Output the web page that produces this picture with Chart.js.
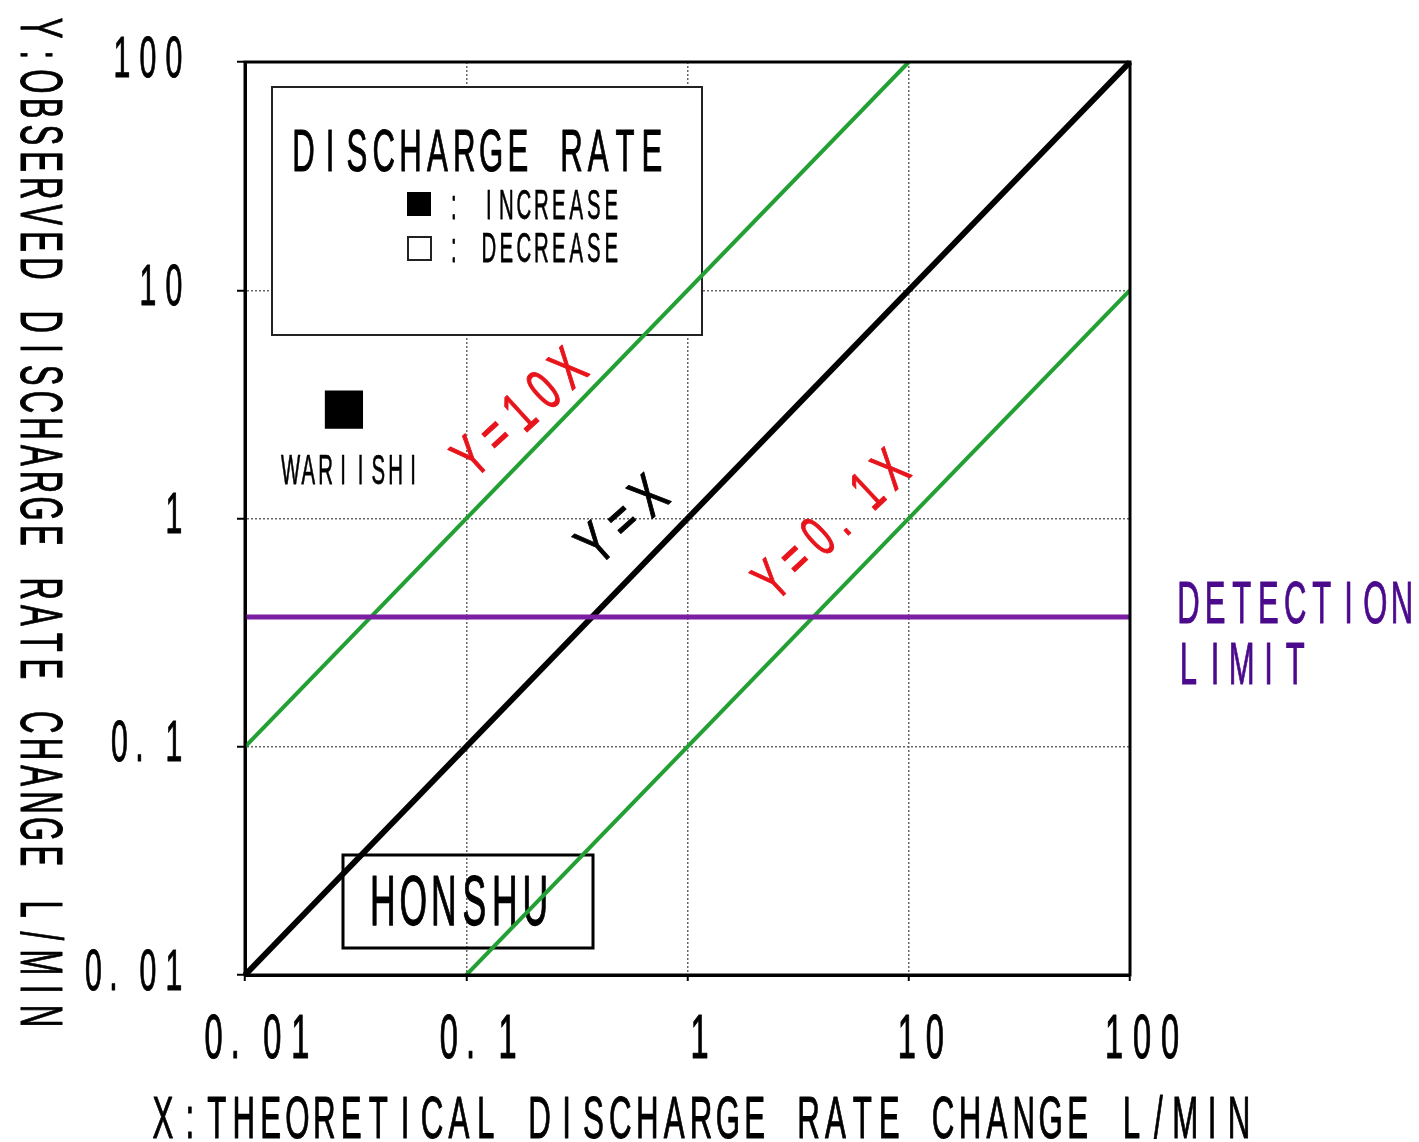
<!DOCTYPE html>
<html>
<head>
<meta charset="utf-8">
<script src="https://cdn.jsdelivr.net/npm/chart.js@4/dist/chart.umd.min.js"></script>
<style>
  body { margin: 0; background: #fff; }
  canvas { display: block; }
</style>
</head>
<body>
<canvas id="chart" width="1419" height="1142"></canvas>
<script>
// axis ticks
var xTicks = [0.01, 0.1, 1, 10, 100];
var xTickLabels = ['0. 01', '0. 1', '1', '10', '100'];
var yTicks = [0.01, 0.1, 1, 10, 100];
var yTickLabels = ['0. 01', '0. 1', '1', '10', '100'];

// reference lines Y = kX
var line10X = [0.01, 10];
var line10Y = [0.1, 100];
var line1X = [0.01, 100];
var line1Y = [0.01, 100];
var line01X = [0.095, 100];
var line01Y = [0.0095, 10];

// detection limit (L/min)
var detectionX = [0.01, 100];
var detectionY = [0.37, 0.37];

// observed sites
var sites = ['WARIISHI'];
var siteX = [0.028];
var siteY = [3.0];

var FONT = '"Liberation Sans", "DejaVu Sans", sans-serif';
var GREEN = '#23a033';
var RED = '#e8141c';

function pairs(xs, ys) {
    var out = [];
    for (var i in xs) {
        out.push({x: xs[i], y: ys[i]});
    }
    return out;
}

// cell width of each char: '.' and the space after it are narrow
function cells(text, cell) {
    var w = [];
    for (var i = 0; i < text.length; i++) {
        var ch = text[i];
        if (ch === '.' || (ch === ' ' && text[i - 1] === '.')) w.push(cell * 0.55);
        else w.push(cell);
    }
    return w;
}

// draws text in fixed cells, like the half-width gothic font of the original
function mono(ctx, text, x, y, cap, cell, color, align) {
    var size = cap / 0.716;
    ctx.save();
    ctx.font = size + 'px ' + FONT;
    ctx.fillStyle = color;
    ctx.strokeStyle = color;
    ctx.lineJoin = 'round';
    ctx.textAlign = 'center';
    ctx.textBaseline = 'alphabetic';
    var w = cells(text, cell);
    var total = w.reduce(function(s, v) { return s + v; }, 0);
    var x0 = x;
    if (align === 'center') x0 = x - total / 2;
    if (align === 'right') x0 = x - total;
    var sx = Math.min(1, cell * 0.84 / ctx.measureText('H').width);
    ctx.lineWidth = Math.max(0.6, cap / 40);
    var pos = x0;
    for (var i = 0; i < text.length; i++) {
        var ch = text[i];
        if (ch !== ' ') {
            ctx.save();
            ctx.translate(pos + w[i] / 2, y + cap / 2);
            ctx.scale(sx, 1);
            ctx.fillText(ch, 0, 0);
            ctx.strokeText(ch, 0, 0);
            ctx.restore();
        }
        pos += w[i];
    }
    ctx.restore();
}

function rotated(ctx, text, px, py, angle, cap, cell, color) {
    ctx.save();
    ctx.translate(px, py);
    ctx.rotate(angle);
    mono(ctx, text, 0, 0, cap, cell, color, 'center');
    ctx.restore();
}

var annotate = {
    id: 'annotate',
    beforeDatasetsDraw: function(chart) {
        var ctx = chart.ctx;
        var a = chart.chartArea;
        // legend box
        ctx.save();
        ctx.fillStyle = '#fff';
        ctx.fillRect(a.left + 27, a.top + 25, 430, 248);
        ctx.strokeStyle = '#222';
        ctx.lineWidth = 2;
        ctx.strokeRect(a.left + 27, a.top + 25, 430, 248);
        ctx.fillStyle = '#000';
        ctx.fillRect(a.left + 162, a.top + 130, 24, 24);
        ctx.lineWidth = 2;
        ctx.strokeRect(a.left + 163, a.top + 175, 23, 23);
        ctx.restore();
        mono(ctx, 'DISCHARGE RATE', a.left + 45, a.top + 88, 42, 26.8, '#000', 'left');
        mono(ctx, ': INCREASE', a.left + 200, a.top + 142, 30, 17.5, '#000', 'left');
        mono(ctx, ': DECREASE', a.left + 200, a.top + 185, 30, 17.5, '#000', 'left');
        // HONSHU box
        ctx.save();
        ctx.strokeStyle = '#000';
        ctx.lineWidth = 3;
        ctx.strokeRect(a.left + 98, a.top + 793, 250, 93);
        ctx.restore();
        mono(ctx, 'HONSHU', a.left + 214, a.top + 838, 50, 30.5, '#000', 'center');
    },
    afterDatasetsDraw: function(chart) {
        var ctx = chart.ctx;
        var a = chart.chartArea;
        var xs = chart.scales.x;
        var ys = chart.scales.y;
        // frame
        ctx.save();
        ctx.strokeStyle = '#000';
        ctx.lineWidth = 3;
        ctx.strokeRect(a.left, a.top, a.right - a.left, a.bottom - a.top);
        ctx.restore();

        // site labels
        for (var i in sites) {
            var px = xs.getPixelForValue(siteX[i]);
            var py = ys.getPixelForValue(siteY[i]);
            mono(ctx, sites[i], px + 8, py + 59, 30, 17.5, '#000', 'center');
        }

        // line labels
        rotated(ctx, 'Y=10X', xs.getPixelForValue(0.172), ys.getPixelForValue(2.95), -0.74, 42, 33, RED);
        rotated(ctx, 'Y=X', xs.getPixelForValue(0.5), ys.getPixelForValue(1.0), -0.73, 42, 36, '#000');
        rotated(ctx, 'Y=0. 1X', xs.getPixelForValue(4.4), ys.getPixelForValue(0.95), -0.75, 42, 32, RED);

        // detection limit text
        var dy = ys.getPixelForValue(detectionY[0]);
        mono(ctx, 'DETECTION', a.right + 45, dy - 15, 42, 26.7, '#4b0a8c', 'left');
        mono(ctx, 'LIMIT', a.right + 45, dy + 46, 42, 26.7, '#4b0a8c', 'left');
    },
    afterDraw: function(chart) {
        var ctx = chart.ctx;
        var xs = chart.scales.x;
        var ys = chart.scales.y;
        for (var i in xTicks) {
            mono(ctx, xTickLabels[i], xs.getPixelForValue(xTicks[i]) + 12, 1035, 45, 28, '#000', 'center');
        }
        for (var j in yTicks) {
            mono(ctx, yTickLabels[j], 187, ys.getPixelForValue(yTicks[j]) - 6, 41, 26, '#000', 'right');
        }
        // axis titles
        mono(ctx, 'X:THEORETICAL DISCHARGE RATE CHANGE L/MIN', 701, 1117, 42, 26.9, '#000', 'center');
        ctx.save();
        ctx.translate(42, 522);
        ctx.rotate(Math.PI / 2);
        mono(ctx, 'Y:OBSERVED DISCHARGE RATE CHANGE L/MIN', 0, 0, 42, 26.7, '#000', 'center');
        ctx.restore();
    }
};

var ctx = document.getElementById('chart');

var chart = new Chart(ctx, {
    type: 'scatter',
    data: {
        datasets: [
            {
                label: 'DETECTION LIMIT',
                data: pairs(detectionX, detectionY),
                showLine: true,
                borderColor: '#7a1fa2',
                borderWidth: 5,
                pointRadius: 0
            },
            {
                label: 'Y=10X',
                data: pairs(line10X, line10Y),
                showLine: true,
                borderColor: GREEN,
                borderWidth: 4,
                pointRadius: 0
            },
            {
                label: 'Y=0.1X',
                data: pairs(line01X, line01Y),
                showLine: true,
                borderColor: GREEN,
                borderWidth: 4,
                pointRadius: 0
            },
            {
                label: 'Y=X',
                data: pairs(line1X, line1Y),
                showLine: true,
                borderColor: '#000',
                borderWidth: 6,
                pointRadius: 0,
                clip: false
            },
            {
                label: 'INCREASE',
                data: pairs(siteX, siteY),
                pointStyle: 'rect',
                pointRadius: 27,
                backgroundColor: '#000',
                borderWidth: 0
            }
        ]
    },
    options: {
        responsive: false,
        animation: false,
        layout: { padding: { top: 62, right: 289, left: 0, bottom: 0 } },
        plugins: {
            legend: { display: false },
            tooltip: { enabled: false }
        },
        scales: {
            x: {
                type: 'logarithmic',
                min: 0.01,
                max: 100,
                afterBuildTicks: function(s) { s.ticks = xTicks.map(function(v) { return {value: v}; }); },
                afterFit: function(s) { s.height = 167; },
                ticks: { display: false },
                grid: { color: '#666', lineWidth: 1.5, tickLength: 6, tickColor: '#000', tickWidth: 2 },
                border: { color: '#000', width: 3, dash: [2, 2] }
            },
            y: {
                type: 'logarithmic',
                min: 0.01,
                max: 100,
                afterBuildTicks: function(s) { s.ticks = yTicks.map(function(v) { return {value: v}; }); },
                afterFit: function(s) { s.width = 245; },
                ticks: { display: false },
                grid: { color: '#666', lineWidth: 1.5, tickLength: 8, tickColor: '#000', tickWidth: 2 },
                border: { color: '#000', width: 3, dash: [2, 2] }
            }
        }
    },
    plugins: [annotate]
});
</script>
</body>
</html>
